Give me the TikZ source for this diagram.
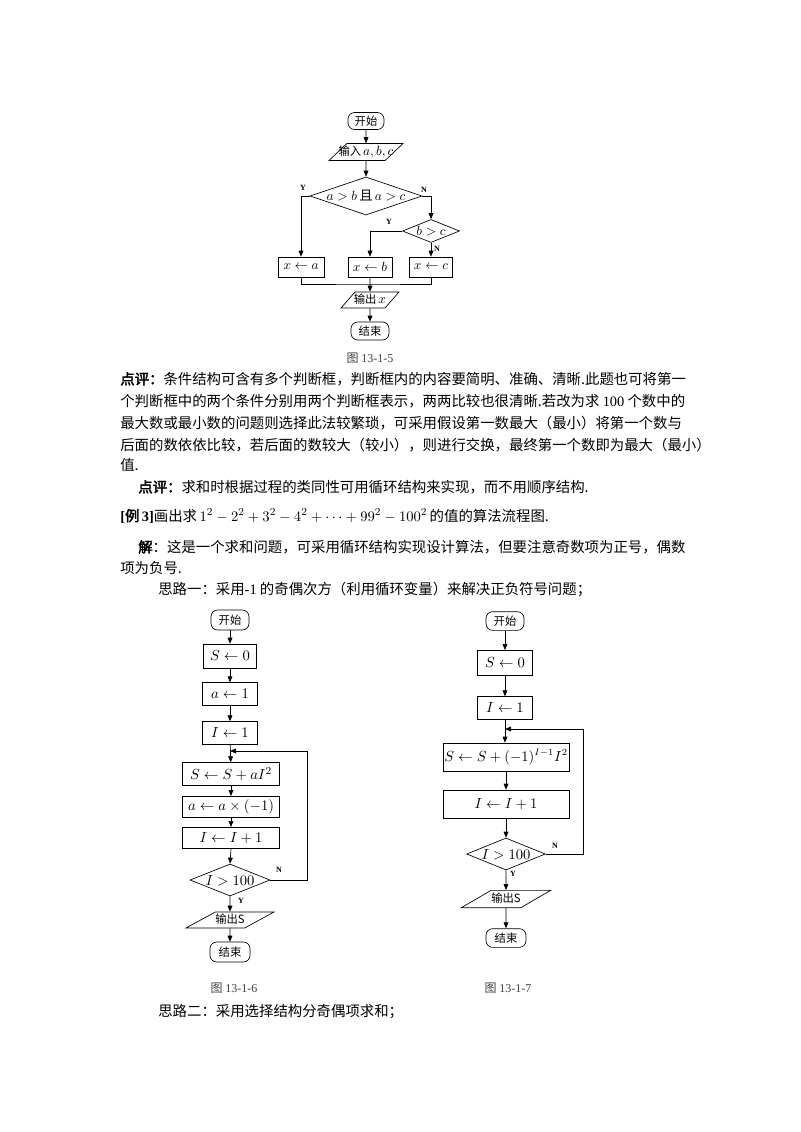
\documentclass[tikz,border=0pt]{standalone}
\usepackage{fontspec}
\setmainfont{Liberation Serif}
\newfontfamily\cjk[AutoFakeBold=2.5]{Noto Sans CJK SC}
\usetikzlibrary{shapes.geometric, arrows.meta, positioning}
\newcommand\nosize[1]{\makebox[1pt]{\raisebox{-0.35em}[0.5pt][0.5pt]{#1}}}
\newcommand\bodyfont{\cjk\fontsize{10.8pt}{12pt}\selectfont}
\newcommand\mathten{\fontsize{10pt}{11pt}\selectfont}

\begin{document}
\begin{tikzpicture}[
    x=0.75pt, y=-0.75pt,
    txt/.style={anchor=west, inner sep=0pt, font=\bodyfont},
    figcap/.style={inner sep=0pt, font=\bodyfont\fontsize{9pt}{10pt}\selectfont, text=black!75},
    term/.style={rectangle, draw, rounded corners=5pt, inner sep=1pt, font=\cjk\fontsize{8.5pt}{9pt}\selectfont},
    proc/.style={rectangle, draw, inner sep=1pt, font=\fontsize{11pt}{12pt}\selectfont},
    io/.style={trapezium, draw, trapezium stretches=true, trapezium left angle=45, trapezium right angle=135, inner sep=0pt, font=\cjk\fontsize{8.5pt}{9pt}\selectfont},
    decide/.style={diamond, draw, inner sep=0pt, font=\fontsize{11pt}{12pt}\selectfont},
    yn/.style={inner sep=0pt, font=\fontsize{6pt}{6pt}\selectfont\bfseries},
    arr/.style={-{Triangle[length=4.5pt,width=3.6pt]}, line width=0.5pt},
    every path/.style={line width=0.5pt}
]
\fill[white] (0,0) rectangle (800,1132);
\useasboundingbox (0,0) rectangle (800,1132);

% Figure 13-1-5
\node[term, minimum width=27pt, minimum height=12.75pt] (st1) at (366,121) {开始};
\node[io, minimum width=55.5pt, minimum height=12.75pt, trapezium left angle=65, trapezium right angle=115] (in1) at (366,152) {\nosize{输入\,{\mathten$a,b,c$}}};
\node[decide, minimum width=84pt, minimum height=28.5pt, font=\mathten] (d1) at (366,196) {\nosize{$a>b$\,{\cjk 且}\,$a>c$}};
\node[decide, minimum width=42.75pt, minimum height=17.25pt, font=\mathten] (d2) at (431,231) {\nosize{$b>c$}};
\node[proc, minimum width=34.5pt, minimum height=15pt, font=\mathten] (xa) at (301,267) {$x\leftarrow a$};
\node[proc, minimum width=33pt, minimum height=15pt, font=\mathten] (xb) at (370,267) {$x\leftarrow b$};
\node[proc, minimum width=32pt, minimum height=15pt, font=\mathten] (xc) at (431,267) {$x\leftarrow c$};
\node[io, minimum width=43.5pt, minimum height=12pt, trapezium left angle=65, trapezium right angle=115] (out1) at (370,300) {\nosize{输出\,{\mathten$x$}}};
\node[term, minimum width=28.5pt, minimum height=13.5pt] (e1) at (370,331) {结束};
\node[figcap] (c1) at (370,358) {图 {\rmfamily 13-1-5}};
\coordinate (m1) at (370,284);

\draw[arr] (st1) -- (in1);
\draw[arr] (in1.south) -- (d1.north);
\draw[arr] (d1.west) -| (xa.north);
\draw[arr] (d1.east) -| (d2.north);
\draw[arr] (d2.west) -| (xb.north);
\draw[arr] (d2.south) -- (xc.north);
\draw (xa.south) |- (m1) -| (xc.south);
\draw[arr] (xb.south) -- (out1.north);
\draw[arr] (out1.south) -- (e1.north);
\node[yn] (y1) at (303,188) {Y};
\node[yn] (n1) at (424,190) {N};
\node[yn] (y2) at (389,222) {Y};
\node[yn] (n2) at (437,249) {N};

% Text
\node[txt] (l1) at (120,379) {\textbf{点评：}条件结构可含有多个判断框，判断框内的内容要简明、准确、清晰.此题也可将第一};
\node[txt] (l2) at (120,401) {个判断框中的两个条件分别用两个判断框表示，两两比较也很清晰.若改为求 {\rmfamily 100} 个数中的};
\node[txt] (l3) at (120,423) {最大数或最小数的问题则选择此法较繁琐，可采用假设第一数最大（最小）将第一个数与};
\node[txt] (l4) at (120,445) {后面的数依依比较，若后面的数较大（较小），则进行交换，最终第一个数即为最大（最小）};
\node[txt] (l5) at (120,465) {值.};
\node[txt] (l6) at (138,487) {\textbf{点评：}求和时根据过程的类同性可用循环结构来实现，而不用顺序结构.};
\node[txt] (l7) at (120,516) {{\rmfamily\bfseries[}\textbf{例}\,{\rmfamily\bfseries 3]}画出求\,$1^2-2^2+3^2-4^2+\cdots+99^2-100^2$\,的值的算法流程图.};
\node[txt] (l8) at (138,547) {\textbf{解}：这是一个求和问题，可采用循环结构实现设计算法，但要注意奇数项为正号，偶数};
\node[txt] (l9) at (120,568) {项为负号.};
\node[txt] (l10) at (158,589) {思路一：采用{\rmfamily -1} 的奇偶次方（利用循环变量）来解决正负符号问题；};

% Figure 13-1-6
\node[term, minimum width=28.5pt, minimum height=15pt] (st2) at (230,620) {开始};
\node[proc, minimum width=40pt, minimum height=18pt] (b1) at (230,656) {$S\leftarrow 0$};
\node[proc, minimum width=41pt, minimum height=17pt] (b2) at (230,694) {$a\leftarrow 1$};
\node[proc, minimum width=41pt, minimum height=17pt] (b3) at (230,733) {$I\leftarrow 1$};
\node[proc, minimum width=73pt, minimum height=17pt] (b4) at (231,774) {$S\leftarrow S+aI^2$};
\node[proc, minimum width=73pt, minimum height=16pt] (b5) at (231,807) {$a\leftarrow a\times(-1)$};
\node[proc, minimum width=73pt, minimum height=16pt] (b6) at (231,838) {$I\leftarrow I+1$};
\node[decide, minimum width=60pt, minimum height=24pt] (d3) at (230,880) {\nosize{$I>100$}};
\node[io, minimum width=66pt, minimum height=12pt] (out2) at (230,920) {\nosize{输出S}};
\node[term, minimum width=30pt, minimum height=15pt] (e2) at (230,952) {结束};
\node[figcap] (c2) at (234,988) {图 {\rmfamily 13-1-6}};
\coordinate (r2) at (307,751);
\coordinate (lp2) at (230,751);

\draw[arr] (st2) -- (b1);
\draw[arr] (b1) -- (b2);
\draw[arr] (b2) -- (b3);
\draw[arr] (b3) -- (b4);
\draw[arr] (b4) -- (b5);
\draw[arr] (b5) -- (b6);
\draw[arr] (b6.south) -- (d3.north);
\draw[arr] (d3.south) -- (out2.north);
\draw[arr] (out2.south) -- (e2.north);
\draw[arr] (d3.east) -| (r2) -- (lp2);
\node[yn] (n3) at (279,870) {N};
\node[yn] (y3) at (241,901) {Y};

% Figure 13-1-7
\node[term, minimum width=28.5pt, minimum height=14pt] (st3) at (505,621) {开始};
\node[proc, minimum width=41pt, minimum height=19pt] (a1) at (505,663) {$S\leftarrow 0$};
\node[proc, minimum width=41pt, minimum height=17pt] (a2) at (505,708) {$I\leftarrow 1$};
\node[proc, minimum width=94.5pt, minimum height=21pt, font=\fontsize{10.5pt}{11pt}\selectfont] (a3) at (506,757) {$S\leftarrow S+(-1)^{I-1}I^2$};
\node[proc, minimum width=94.5pt, minimum height=21pt] (a4) at (506,804) {$I\leftarrow I+1$};
\node[decide, minimum width=59pt, minimum height=24pt] (d4) at (506,854) {\nosize{$I>100$}};
\node[io, minimum width=67pt, minimum height=13pt] (out3) at (506,899) {\nosize{输出S}};
\node[term, minimum width=30pt, minimum height=14pt] (e3) at (506,938) {结束};
\node[figcap] (c3) at (508,988) {图 {\rmfamily 13-1-7}};
\coordinate (r3) at (583,729);
\coordinate (lp3) at (505,729);

\draw[arr] (st3) -- (a1);
\draw[arr] (a1) -- (a2);
\draw[arr] (a2.south) -- (a3.north -| a2.south);
\draw[arr] (a3.south) -- (a4.north);
\draw[arr] (a4.south) -- (d4.north);
\draw[arr] (d4.south) -- (out3.north);
\draw[arr] (out3.south) -- (e3.north);
\draw[arr] (d4.east) -| (r3) -- (lp3);
\node[yn] (n4) at (555,846) {N};
\node[yn] (y4) at (513,874) {Y};

\node[txt] (l11) at (158,1012) {思路二：采用选择结构分奇偶项求和；};
\end{tikzpicture}
\end{document}
